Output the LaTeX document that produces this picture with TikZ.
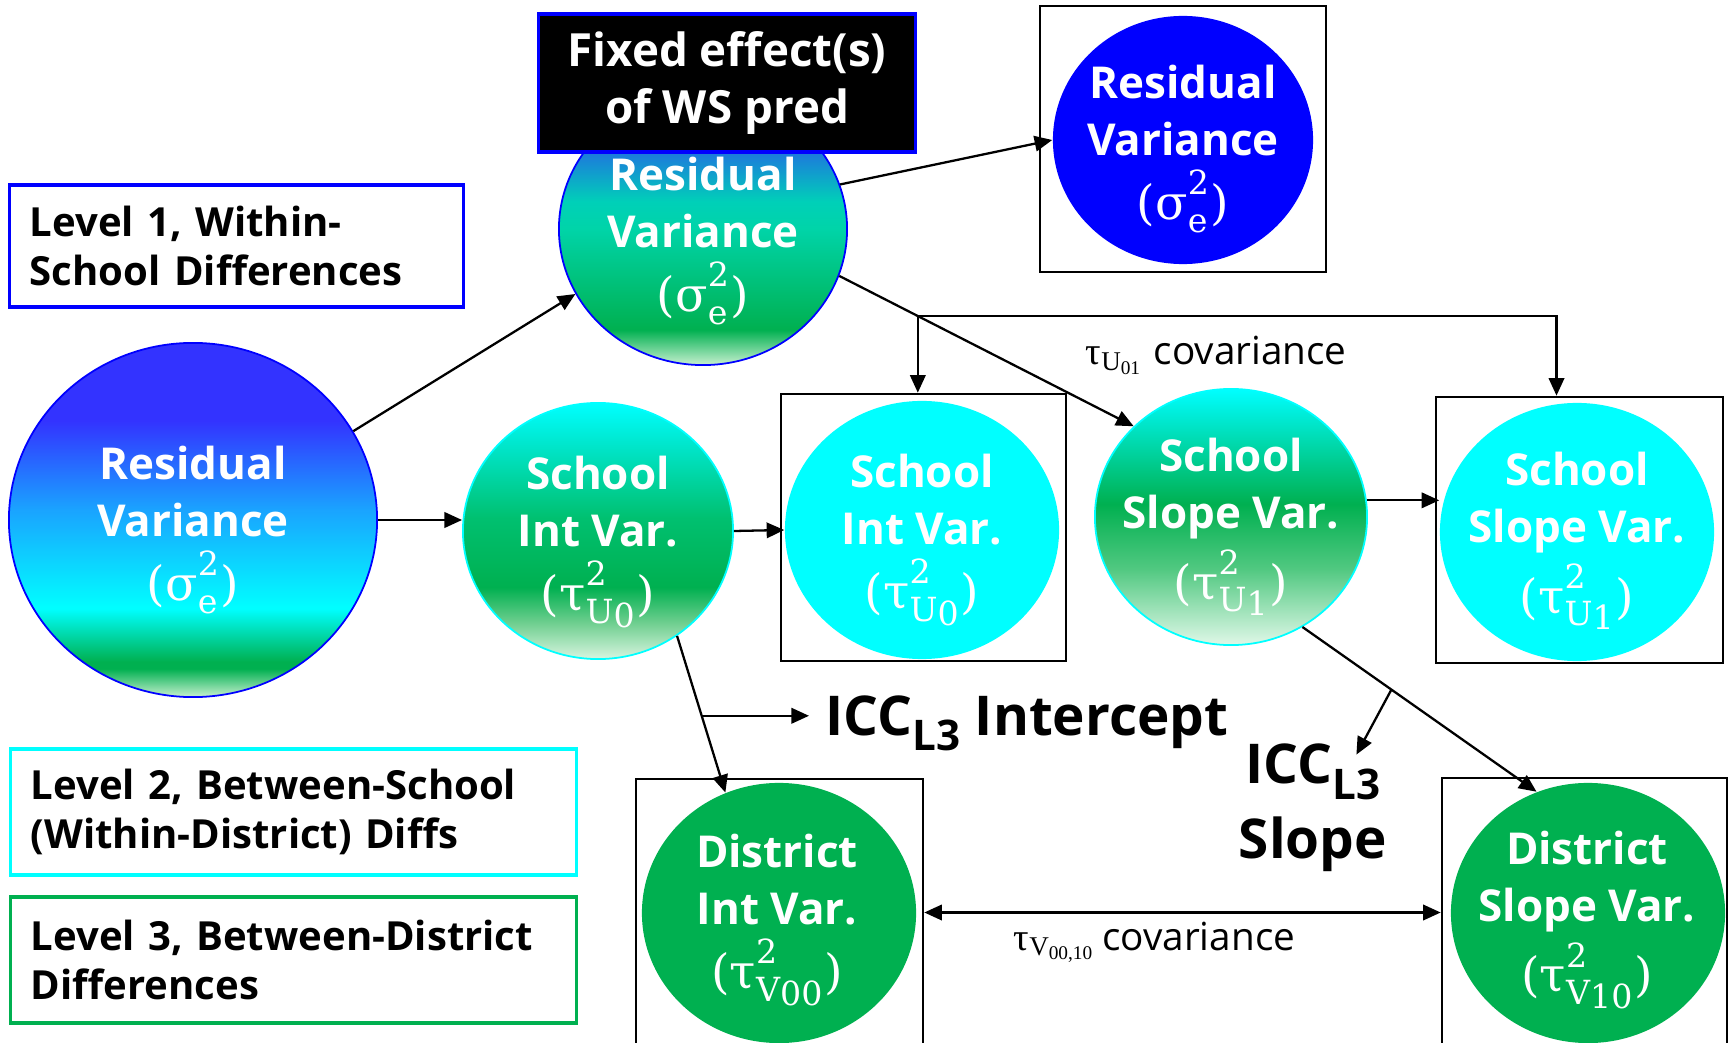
\documentclass[tikz,border=0pt]{standalone}
\usepackage{fontspec}
\usepackage{amsmath}
\setmainfont{Open Sans}
\newfontfamily\gkfam{Liberation Serif}
\newfontfamily\symfam{DejaVu Serif}
\newcommand\gk{\gkfam\mdseries}
\newcommand\sy{\symfam\mdseries}
\usetikzlibrary{shapes.geometric,arrows.meta,calc}

\definecolor{blueA}{HTML}{0000FF}
\definecolor{cyanA}{HTML}{00FFFF}
\definecolor{greenA}{HTML}{00B050}
\definecolor{deepBlue}{HTML}{3333FF}
\definecolor{skyBlue}{HTML}{1AA3FF}
\definecolor{paleGreen}{HTML}{C8F0D0}
\definecolor{midBlue}{HTML}{2070E0}
\definecolor{aquaA}{HTML}{00D0B8}
\definecolor{aquaB}{HTML}{00D4A8}
\definecolor{tealA}{HTML}{00E8D0}
\definecolor{tealB}{HTML}{00C070}
\definecolor{softGreen}{HTML}{70CF90}
\definecolor{mintA}{HTML}{D8F5E0}
\definecolor{tealC}{HTML}{00ECD8}
\definecolor{softGreenB}{HTML}{50C880}
\definecolor{mintB}{HTML}{E0F8E8}

% vertical shadings: 25bp = bottom of the shape, 75bp = top
\pgfdeclareverticalshading{shBig}{100bp}{color(0bp)=(paleGreen); color(25bp)=(paleGreen);
  color(29bp)=(greenA); color(30bp)=(greenA); color(37.5bp)=(cyanA);
  color(51.5bp)=(skyBlue); color(64bp)=(deepBlue); color(100bp)=(deepBlue)}
\pgfdeclareverticalshading{shMid}{100bp}{color(0bp)=(paleGreen); color(25bp)=(paleGreen);
  color(31.5bp)=(greenA); color(50bp)=(aquaB); color(55bp)=(aquaA);
  color(65bp)=(midBlue); color(75bp)=(deepBlue); color(100bp)=(deepBlue)}
\pgfdeclareverticalshading{shSInt}{100bp}{color(0bp)=(mintA); color(25bp)=(mintA);
  color(32bp)=(softGreen); color(39bp)=(greenA); color(52.5bp)=(tealB);
  color(67.5bp)=(tealA); color(75bp)=(cyanA); color(100bp)=(cyanA)}
\pgfdeclareverticalshading{shSSl}{100bp}{color(0bp)=(mintB); color(25bp)=(mintB);
  color(40bp)=(softGreenB); color(52.5bp)=(greenA);
  color(70bp)=(tealC); color(75bp)=(cyanA); color(100bp)=(cyanA)}

% variance symbol: (base^sup_sub)
\newcommand\vsq[3]{{\fontsize{13.5}{16.2}\selectfont
  $\text{\sy(#1}^{\text{\sy #2}}_{\text{\sy #3}}\text{\sy)}$}}

\tikzset{
  conn/.style={line width=0.65pt, -{Triangle[length=5pt,width=4.4pt]}},
  frm/.style={draw=black, line width=0.7pt, inner sep=0pt},
  disc/.style={ellipse, inner sep=0pt},
  vtxt/.style={text=white, align=center, inner sep=0pt, font=\bfseries\fontsize{12.5}{16.2}\selectfont},
  lvl/.style={draw, line width=0.9pt, fill=white, inner xsep=0.2cm, inner ysep=0pt, align=left,
    font=\bfseries\fontsize{11.4}{14}\selectfont},
  icc/.style={font=\bfseries\fontsize{15.6}{18.2}\selectfont, inner sep=0pt},
  cvlab/.style={font=\fontsize{11}{13}\selectfont, inner sep=0pt},
}

\begin{document}
\begin{tikzpicture}[x=0.01cm,y=-0.01cm]
\useasboundingbox (0,0) rectangle (1733,1043);
\clip (0,0) rectangle (1733,1043);

% level legend boxes
\node[lvl, draw=blueA, minimum width=4.53cm, minimum height=1.22cm, text width=4.13cm] (lv1) at (236.5,246)
  {Level 1, Within-\\School Differences};
\node[lvl, draw=cyanA, minimum width=5.65cm, minimum height=1.26cm, text width=5.25cm] (lv2) at (293.5,812)
  {Level 2, Between-School\\(Within-District) Diffs};
\node[lvl, draw=greenA, minimum width=5.65cm, minimum height=1.26cm, text width=5.25cm] (lv3) at (293.5,960)
  {Level 3, Between-District\\Differences};

% framed variance components
\node[frm, minimum width=2.86cm, minimum height=2.66cm] (resF) at (1183,139) {};
\node[frm, minimum width=2.85cm, minimum height=2.67cm] (sIntF) at (923.5,527.5) {};
\node[frm, minimum width=2.87cm, minimum height=2.66cm] (sSlF) at (1579.5,530) {};
\node[frm, minimum width=2.87cm, minimum height=2.67cm] (dIntF) at (779.5,912.5) {};
\node[frm, minimum width=2.85cm, minimum height=2.67cm] (dSlF) at (1584.5,911.5) {};

% discs
\node[disc, shading=shBig, draw=blueA, line width=0.5pt, minimum width=3.68cm, minimum height=3.54cm] (big) at (193,520) {};
\node[vtxt] at (193,530) {Residual\\Variance\\[2pt]\vsq{σ}{2}{e}};

\node[disc, shading=shMid, draw=blueA, line width=0.5pt, minimum width=2.88cm, minimum height=2.72cm] (mid) at (703,229) {};
\node[vtxt] at (703,241) {Residual\\Variance\\[2pt]\vsq{σ}{2}{e}};

\node[disc, fill=blueA, minimum width=2.60cm, minimum height=2.48cm] (resC) at (1183,140) {};
\node[vtxt] at (1183,149) {Residual\\Variance\\[2pt]\vsq{σ}{2}{e}};

\node[disc, shading=shSInt, draw=cyanA, line width=0.5pt, minimum width=2.70cm, minimum height=2.56cm] (sInt) at (598,531) {};
\node[vtxt] at (598,542) {School\\Int Var.\\[2pt]\vsq{τ}{2}{U\lower1.2pt\hbox{0}}};

\node[disc, fill=cyanA, minimum width=2.74cm, minimum height=2.58cm] (sIntC) at (922,530) {};
\node[vtxt] at (922,540) {School\\Int Var.\\[2pt]\vsq{τ}{2}{U\lower1.2pt\hbox{0}}};

\node[disc, shading=shSSl, draw=cyanA, line width=0.5pt, minimum width=2.72cm, minimum height=2.56cm] (sSl) at (1231,517) {};
\node[vtxt] at (1231,527) {School\\Slope Var.\\[2pt]\vsq{τ}{2}{U\lower1.2pt\hbox{1}}};

\node[disc, fill=cyanA, minimum width=2.74cm, minimum height=2.58cm] (sSlC) at (1577,532) {};
\node[vtxt] at (1577,541) {School\\Slope Var.\\[2pt]\vsq{τ}{2}{U\lower1.2pt\hbox{1}}};

\node[disc, fill=greenA, minimum width=2.74cm, minimum height=2.60cm] (dInt) at (779,913) {};
\node[vtxt] at (777,920) {District\\Int Var.\\[2pt]\vsq{τ}{2}{V\lower1.2pt\hbox{00}}};

\node[disc, fill=greenA, minimum width=2.74cm, minimum height=2.60cm] (dSl) at (1588,913) {};
\node[vtxt] at (1587,920) {District\\Slope Var.\\[2pt]\vsq{τ}{2}{V\lower1.2pt\hbox{10}}};

% fixed-effect banner over the level-1 disc
\node[draw=blueA, line width=0.9pt, fill=black, text=white, minimum width=3.76cm, minimum height=1.38cm,
  align=center, inner sep=0pt, font=\bfseries\fontsize{13}{16}\selectfont] (fx) at (727,83)
  {Fixed effect(s)\\of WS pred};

% text labels
\node[icc, anchor=base west, inner xsep=0.16cm] (iccI) at (809,735)
  {ICC\raisebox{-4.5pt}{\fontsize{12}{12}\selectfont L3} Intercept};
\node[icc, anchor=base, align=center] (iccS) at (1313,858)
  {ICC\raisebox{-4.5pt}{\fontsize{12}{12}\selectfont L3}\\[3pt]Slope};
\node[cvlab, anchor=base west] (cvU) at (1085,365)
  {$\text{\gk τ}_{\text{\gk U}_{\text{\gk 01}}}$ covariance};
\node[cvlab, anchor=base west] (cvV) at (1013,950)
  {$\text{\gk τ}_{\text{\gk V}_{\text{\gk 00,10}}}$\,covariance};

% connectors
\draw[conn] (big.29) -- (mid.207);
\draw[conn] (big.east) -- (big.east -| sInt.west);
\draw[conn] (mid.18) -- (resC.west);
\draw[conn] (mid.-19) -- (sSl.137);
\coordinate (cv) at ($(mid.-19)!0.267!(sSl.137)$);
\draw[conn] (cv) -- (cv |- sIntF.north);
\draw[conn] (cv) -| ($(sSlF.north)+(-23,0)$);
\draw[conn] (sInt.east) -- (sIntC.west);
\draw[conn] (sSl.7) -- (sSl.7 -| sSlC.west);
\draw[conn] (sInt.-53) -- (dInt.114);
\coordinate (hI) at ($(sInt.-53)!0.51!(dInt.114)$);
\draw[conn] (hI) -- (hI -| iccI.west);
\draw[conn] (sSl.-57) -- (dSl.113);
\coordinate (sI) at ($(sSl.-57)!0.38!(dSl.113)$);
\coordinate (sE) at ($(sI)+(-35,65)$);
\draw[conn] (sI) -- (sE);
\draw[conn, {Triangle[length=5pt,width=4.4pt]}-{Triangle[length=5pt,width=4.4pt]}]
  (dIntF.east) -- (dIntF.east -| dSlF.west);
\end{tikzpicture}
\end{document}
